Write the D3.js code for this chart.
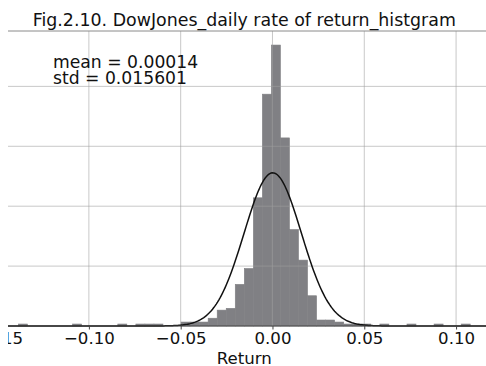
<!DOCTYPE html>
<html>
<head>
<meta charset="utf-8">
<script src="https://cdn.jsdelivr.net/npm/d3@7"></script>
<style>
  body { margin: 0; background: white; }
  svg { display: block; font-family: "DejaVu Sans", sans-serif; }
</style>
</head>
<body>
<svg id="hist_chart"></svg>
<script>
// histogram data: density per bin, bins run from return_min to return_max
const return_min = -0.1384
const return_max = 0.1077
const densities = [
  0.33, 0, 0, 0, 0, 0, 0.33, 0, 0, 0,
  0, 0.33, 0, 0.33, 0.33, 0.33, 0, 0, 0.66, 0.66,
  0.66, 1.3, 2.65, 2.95, 6.95, 9.6, 21.4, 38.7, 46.9, 31.4,
  16.1, 11.0, 5.05, 1.0, 1.0, 0.66, 0.33, 0.33, 0.33, 0,
  0.33, 0, 0, 0.33, 0, 0, 0.33, 0, 0, 0.33
]
// stats shown on the chart (normal curve is drawn from these)
const ret_mean = 0.00014
const ret_std = 0.015601
const x_ticks = [-0.15, -0.10, -0.05, 0.00, 0.05, 0.10]
const y_grid = [10, 20, 30, 40]

var W = 486, H = 366
var svg = d3.select("#hist_chart")
  .attr("width", W)
  .attr("height", H)

// reference picture is cut off on the left
svg.append("defs").append("clipPath").attr("id", "crop")
  .append("rect").attr("x", 8).attr("y", 0).attr("width", W - 8).attr("height", H)

var g = svg.append("g").attr("clip-path", "url(#crop)")

var bin_w = (return_max - return_min) / densities.length
var pad = (return_max - return_min) * 0.05

var x = d3.scaleLinear()
  .domain([return_min - pad, return_max + pad])
  .range([-4.2, 492.8])

var y = d3.scaleLinear()
  .domain([0, d3.max(densities) * 1.05])
  .range([326, 31])

// bars
g.append("g")
  .selectAll("rect")
  .data(densities)
  .enter().append("rect")
  .attr("x", (d, i) => x(return_min + i * bin_w))
  .attr("width", (d, i) => x(return_min + (i + 1) * bin_w) - x(return_min + i * bin_w))
  .attr("y", d => y(d))
  .attr("height", d => y(0) - y(d))
  .attr("fill", "#808084")
  .attr("stroke", d => d > 0 ? "#808084" : "none")
  .attr("stroke-width", 0.6)

// grid (drawn over the bars, shows through lighter)
g.append("g")
  .selectAll("line")
  .data(x_ticks)
  .enter().append("line")
  .attr("x1", d => x(d)).attr("x2", d => x(d))
  .attr("y1", y.range()[1]).attr("y2", y(0))
  .attr("stroke", "#9e9e9e")
  .attr("stroke-opacity", 0.57)
  .attr("stroke-width", 1)

g.append("g")
  .selectAll("line")
  .data(y_grid)
  .enter().append("line")
  .attr("x1", x.range()[0]).attr("x2", x.range()[1])
  .attr("y1", d => y(d)).attr("y2", d => y(d))
  .attr("stroke", "#9e9e9e")
  .attr("stroke-opacity", 0.57)
  .attr("stroke-width", 1)

// normal pdf with the same mean / std
var pdf = function(v) {
  return Math.exp(-0.5 * Math.pow((v - ret_mean) / ret_std, 2)) / (ret_std * Math.sqrt(2 * Math.PI))
}
var curve_x = d3.range(400).map(i => x.domain()[0] + i * (x.domain()[1] - x.domain()[0]) / 399)

g.append("path")
  .datum(curve_x)
  .attr("fill", "none")
  .attr("stroke", "#111")
  .attr("stroke-width", 1.5)
  .attr("d", d3.line().x(d => x(d)).y(d => y(pdf(d))))

// top spine
g.append("line")
  .attr("x1", x.range()[0]).attr("x2", x.range()[1])
  .attr("y1", y.range()[1]).attr("y2", y.range()[1])
  .attr("stroke", "#8a8a8a").attr("stroke-width", 1)

// x axis
var xAxis = g.append("g")
  .attr("class", "xAxis")
  .attr("transform", "translate(0," + y(0) + ")")
  .call(d3.axisBottom(x)
    .tickValues(x_ticks)
    .tickSize(3.5)
    .tickPadding(3)
    .tickFormat(d => d3.format(".2f")(d).replace("-", "\u2212")))

xAxis.select(".domain").attr("stroke", "#444").attr("d", "M" + x.range()[0] + ",0H" + x.range()[1])
xAxis.selectAll(".tick line").attr("stroke", "#444")
xAxis.selectAll(".tick text")
  .attr("font-size", "16.6px")
  .attr("font-family", "DejaVu Sans, sans-serif")
  .attr("fill", "#111")

// axis label
g.append("text")
  .text("Return")
  .attr("x", (x.range()[0] + x.range()[1]) / 2)
  .attr("y", 364)
  .attr("text-anchor", "middle")
  .attr("font-size", "16.6px")
  .attr("fill", "#111")

// title
g.append("text")
  .text("Fig.2.10. DowJones_daily rate of return_histgram")
  .attr("x", (x.range()[0] + x.range()[1]) / 2)
  .attr("y", 25.5)
  .attr("text-anchor", "middle")
  .attr("font-size", "17.4px")
  .attr("fill", "#111")

// stats text
g.append("text")
  .attr("x", 53)
  .attr("y", 68)
  .attr("font-size", "17.2px")
  .attr("fill", "#111")
  .selectAll("tspan")
  .data(["mean = " + ret_mean, "std = " + ret_std])
  .enter().append("tspan")
  .attr("x", 53)
  .attr("dy", (d, i) => i == 0 ? 0 : 16)
  .text(d => d)
</script>
</body>
</html>
